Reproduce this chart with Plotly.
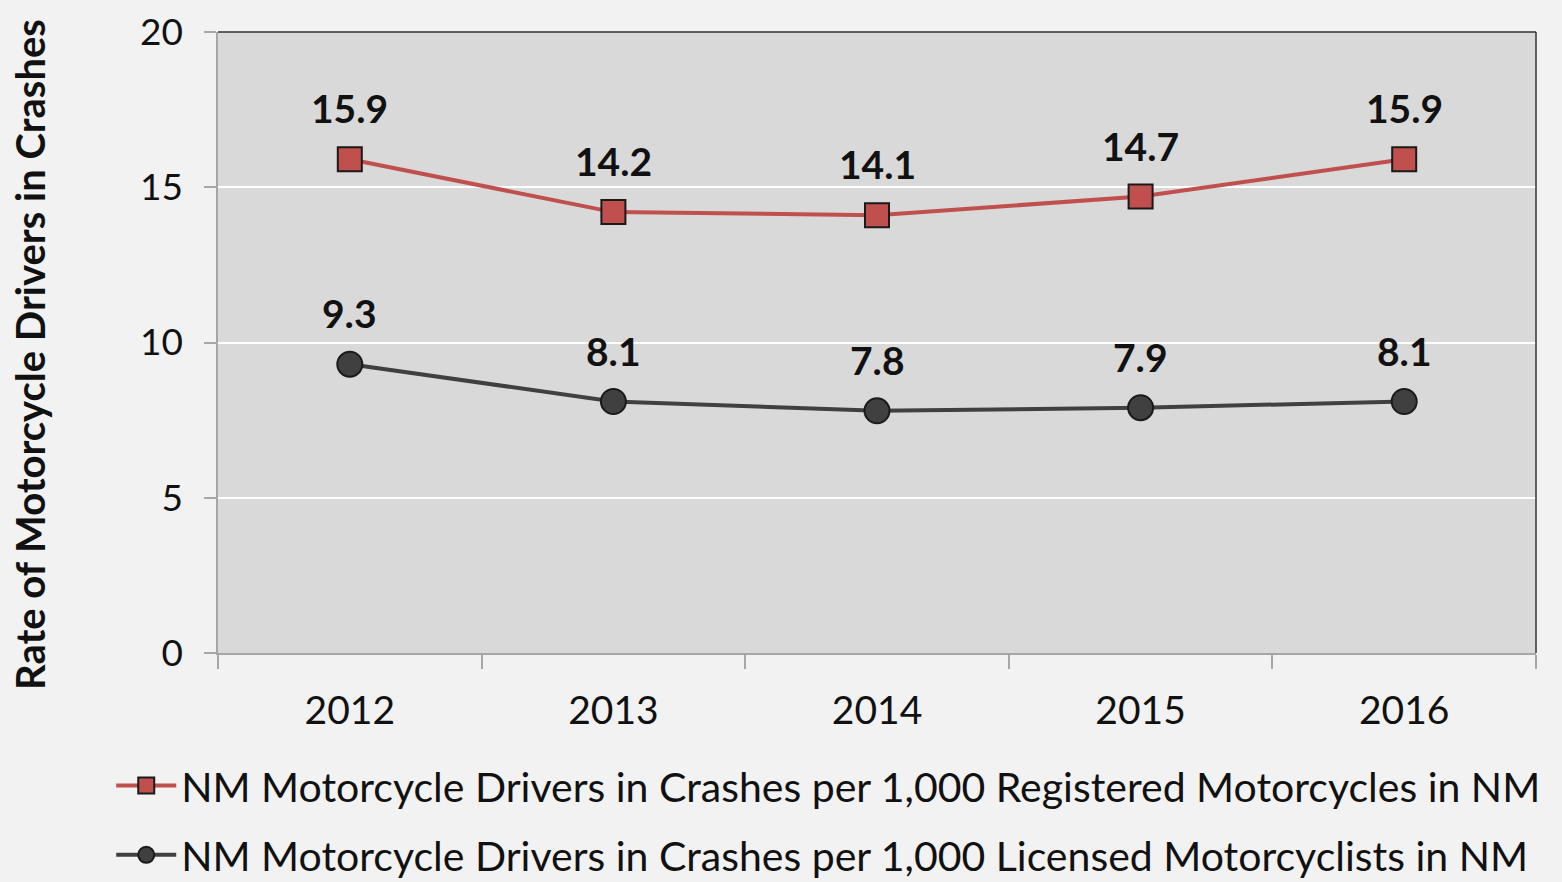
import plotly.graph_objects as go

years = ["2012", "2013", "2014", "2015", "2016"]
registered = [15.9, 14.2, 14.1, 14.7, 15.9]
licensed = [9.3, 8.1, 7.8, 7.9, 8.1]
name_reg = "NM Motorcycle Drivers in Crashes per 1,000 Registered Motorcycles in NM"
name_lic = "NM Motorcycle Drivers in Crashes per 1,000 Licensed Motorcyclists in NM"
y_title = "Rate of Motorcycle Drivers in Crashes"
y_ticks = [0, 5, 10, 15, 20]

FONT = "Lato"
RED = "#c0504d"
DARK = "#404040"

fig = go.Figure()
fig.add_trace(go.Scatter(
    x=years, y=registered, name=name_reg, mode="lines+markers",
    line=dict(color=RED, width=4),
    marker=dict(symbol="square", size=24, color=RED, line=dict(color="#1a1a1a", width=2)),
    legendgroup="a",
))
fig.add_trace(go.Scatter(
    x=years, y=licensed, name=name_lic, mode="lines+markers",
    line=dict(color=DARK, width=4),
    marker=dict(symbol="circle", size=25, color=DARK, line=dict(color="#1a1a1a", width=2)),
    legendgroup="b",
))

for series in (registered, licensed):
    for i, yv in enumerate(series):
        fig.add_annotation(x=i, y=yv, xref="x", yref="y", text=f"<b>{yv:.1f}</b>", showarrow=False,
                           yshift=51, font=dict(family=FONT, size=39, color="#111111"))

# y-axis title as rotated annotation (placed like the reference)
fig.add_annotation(x=-0.1426, y=0.48, xref="paper", yref="paper", text=f"<b>{y_title}</b>",
                   textangle=-90, showarrow=False, xanchor="center", yanchor="middle",
                   font=dict(family=FONT, size=40, color="#111111"))

# dark top/right border of plot area
fig.add_shape(type="line", xref="paper", yref="paper", x0=0, x1=1, y0=1, y1=1,
              line=dict(color="#333333", width=1.5))
fig.add_shape(type="line", xref="paper", yref="paper", x0=1, x1=1, y0=0, y1=1,
              line=dict(color="#333333", width=1.5))

fig.update_layout(
    width=1562, height=882,
    margin=dict(l=218, r=26, t=32, b=229, autoexpand=False),
    paper_bgcolor="#f2f2f2", plot_bgcolor="#d9d9d9",
    font=dict(family=FONT, size=40, color="#111111"),
    showlegend=True,
    legend=dict(orientation="v", x=-0.081, xanchor="left", y=-0.16, yanchor="top",
                font=dict(family=FONT, size=41, color="#111111"),
                tracegroupgap=13, bgcolor="rgba(0,0,0,0)", itemwidth=60),
)
fig.update_xaxes(
    type="category", tickson="boundaries", ticks="outside", ticklen=14,
    tickcolor="#a6a6a6", tickwidth=1.5, showline=True, linecolor="#a6a6a6", linewidth=1.5,
    showgrid=False, tickfont=dict(family=FONT, size=39), range=[-0.5, 4.5],
    ticklabelstandoff=22,
)
fig.update_yaxes(
    range=[0, 20], tickvals=y_ticks, ticks="outside", ticklen=12,
    tickcolor="#a6a6a6", tickwidth=1.5, showline=True, linecolor="#a6a6a6", linewidth=1.5,
    gridcolor="#ffffff", gridwidth=1.5, zeroline=False, tickfont=dict(family=FONT, size=37),
    ticklabelstandoff=14,
)

fig.write_html("out.html", config={"displayModeBar": False},
               post_script="document.body.style.margin='0';document.body.style.background='#f2f2f2';")
